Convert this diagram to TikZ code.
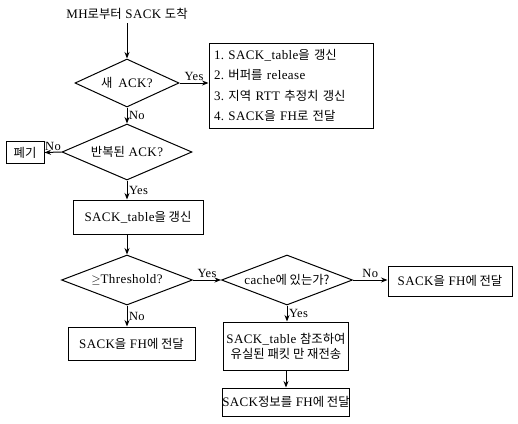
\documentclass[tikz,border=0pt]{standalone}
\usepackage{fontspec}
\setmainfont{Liberation Serif}[LetterSpace=3]
\newfontfamily\kr{Noto Sans CJK KR}[Scale=0.95]
\newcommand\hg[1]{{\kr #1}}
\usetikzlibrary{shapes.geometric,arrows.meta}

\begin{document}
\frenchspacing
\begin{tikzpicture}[x=1pt,y=-1pt,
  every node/.style={font=\fontsize{13}{15}\selectfont},
  flow/.style={draw, line width=1pt, inner sep=0pt, align=center},
  proc/.style={flow, rectangle},
  test/.style={flow, diamond, aspect=2.5},
  arr/.style={line width=1pt, -{Stealth[length=6.5pt,width=5pt]}},
  lbl/.style={font=\fontsize{12.5}{14}\selectfont, inner sep=1.5pt}
]
\useasboundingbox (0,0) rectangle (518,423);

% start
\node (start) at (127,14) {MH\hg{로부터} SACK \hg{도착}};

% new ACK test and its actions
\node[test, minimum width=104, minimum height=48] (newack) at (127,83) {\hg{새}\, ACK?};
\node[proc, minimum width=164, minimum height=85, text width=154, align=left,
      font=\fontsize{13}{20.5}\selectfont] (update) at (291,85.5)
  {1. SACK\_table\hg{을 갱신}\\
   2. \hg{버퍼를} release\\
   3. \hg{지역} RTT \hg{추정치 갱신}\\
   4. SACK\hg{을} FH\hg{로 전달}};

% duplicate ACK test
\node[test, minimum width=130, minimum height=56] (dupack) at (127,152) {\hg{반복된} ACK?};
\node[proc, minimum width=38, minimum height=22] (discard) at (25,152.5) {\hg{폐기}};

\node[proc, minimum width=130, minimum height=34] (table) at (138,217) {SACK\_table\hg{을 갱신}};

% threshold and cache tests
\node[test, minimum width=131, minimum height=50] (thresh) at (127,280) {$\geq$Threshold?};
\node[test, minimum width=131, minimum height=50] (cache) at (287,280) {cache\hg{에 있는가?}};

\node[proc, minimum width=124, minimum height=30] (fwdright) at (450,281) {SACK\hg{을} FH\hg{에 전달}};
\node[proc, minimum width=127, minimum height=33] (fwdleft) at (131.5,343.5) {SACK\hg{을} FH\hg{에 전달}};
\node[proc, minimum width=125, minimum height=48] (retx) at (286,346)
  {SACK\_table \hg{참조하여}\\\hg{유실된 패킷 만 재전송}};
\node[proc, minimum width=121, minimum height=28] (info) at (286,402) {SACK\hg{정보를} FH\hg{에 전달}};

% connectors
\draw[arr] (start.south) -- (newack.north);
\draw[arr] (newack.east) -- (newack.east -| update.west) node[lbl, midway, above] {Yes};
\draw[arr] (newack.south) -- (dupack.north) node[lbl, midway, right] {No};
\draw[arr] (dupack.west) -- (discard.east) node[lbl, midway, above] {No};
\draw[arr] (dupack.south) -- (dupack.south |- table.north) node[lbl, midway, right] {Yes};
\draw[arr] (thresh.north |- table.south) -- (thresh.north);
\draw[arr] (thresh.east) -- (cache.west) node[lbl, midway, above] {Yes};
\draw[arr] (thresh.south) -- (thresh.south |- fwdleft.north) node[lbl, midway, right] {No};
\draw[arr] (cache.east) -- (cache.east -| fwdright.west) node[lbl, midway, above] {No};
\draw[arr] (cache.south) -- (cache.south |- retx.north) node[lbl, midway, right] {Yes};
\draw[arr] (retx.south) -- (info.north);
\end{tikzpicture}
\end{document}
